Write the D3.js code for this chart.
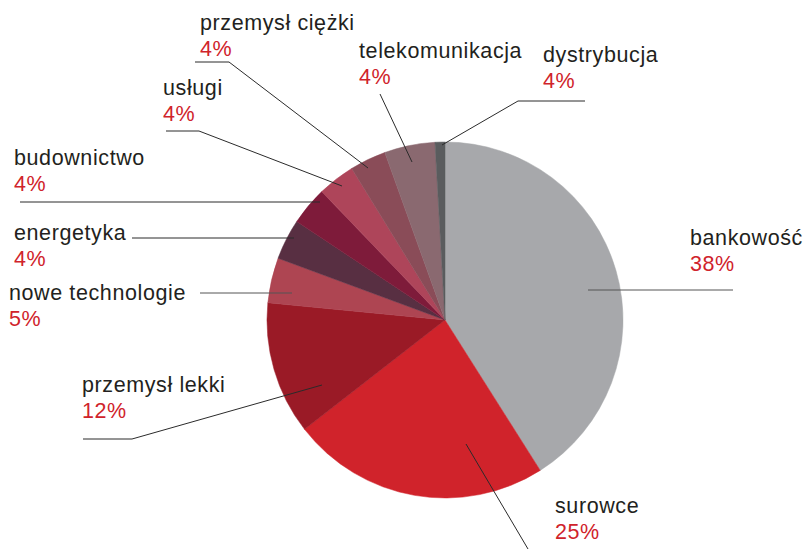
<!DOCTYPE html>
<html>
<head>
<meta charset="utf-8">
<script src="https://cdn.jsdelivr.net/npm/d3@7"></script>
<style>
  body { margin: 0; background: #fff; }
  text { font-family: "Liberation Sans", Arial, sans-serif; }
</style>
</head>
<body>
<div id="chart"></div>
<script>
// sectors, clockwise from 12 o'clock
const sectors = ["bankowość", "surowce", "przemysł lekki", "nowe technologie", "energetyka",
                 "budownictwo", "usługi", "przemysł ciężki", "telekomunikacja", "dystrybucja"];
// slice sizes as drawn
const shares = [41.1, 23.5, 12.1, 4.1, 3.7, 3.5, 3.4, 3.3, 4.6, 0.9];
// percentages printed in the labels
const shareLabels = ["38%", "25%", "12%", "5%", "4%", "4%", "4%", "4%", "4%", "4%"];
const colors = ["#a7a8ab", "#d0232b", "#9a1a26", "#ae4552", "#582f42",
                "#7e1b3a", "#ae455a", "#8a4c58", "#8a6970", "#5a5c5e"];

function init() {
    let w = 806;
    let h = 549;

    // label placement: text anchor and leader polyline (annotation layout)
    const layout = {
        "bankowość":        { x: 690, y: 245, line: [[588, 290], [733, 290]], stroke: "#555" },
        "surowce":          { x: 555, y: 513, line: [[466, 444], [528, 549]] },
        "przemysł lekki":   { x: 82,  y: 392, line: [[322, 385], [132, 439], [83, 439]] },
        "nowe technologie": { x: 9,   y: 300, line: [[292, 293], [200, 293]], stroke: "#555" },
        "energetyka":       { x: 14,  y: 240, line: [[294, 238], [132, 238]] },
        "budownictwo":      { x: 14,  y: 165, line: [[320, 202], [20, 202]] },
        "usługi":           { x: 163, y: 95,  line: [[342, 186], [199, 131], [166, 131]] },
        "przemysł ciężki":  { x: 200, y: 30,  line: [[368, 168], [229, 62], [195, 62]] },
        "telekomunikacja":  { x: 359, y: 58,  line: [[412, 162], [380, 94]] },
        "dystrybucja":      { x: 543, y: 62,  line: [[442, 145], [518, 101], [585, 101]] }
    };

    let svg = d3.select("#chart")
        .append("svg")
        .attr("width", w)
        .attr("height", h);

    let pie = d3.pie()
        .sort(null)
        .value(function (d) { return d.value; });

    let arc = d3.arc()
        .innerRadius(0)
        .outerRadius(178);

    let data = sectors.map(function (s, i) {
        return { name: s, value: shares[i], label: shareLabels[i], color: colors[i] };
    });

    let g = svg.append("g")
        .attr("transform", "translate(445,320)");

    g.selectAll("path")
        .data(pie(data))
        .enter()
        .append("path")
        .attr("d", arc)
        .attr("fill", function (d) { return d.data.color; })
        .attr("stroke", function (d) { return d.data.color; })
        .attr("stroke-width", 0.5);

    let line = d3.line();

    // leader lines
    svg.selectAll(".leader")
        .data(data)
        .enter()
        .append("path")
        .attr("class", "leader")
        .attr("d", function (d) { return line(layout[d.name].line); })
        .attr("fill", "none")
        .attr("stroke", function (d) { return layout[d.name].stroke || "#2b2b2b"; })
        .attr("stroke-width", 1);

    // labels
    let labels = svg.selectAll(".label")
        .data(data)
        .enter()
        .append("text")
        .attr("class", "label")
        .attr("x", function (d) { return layout[d.name].x; })
        .attr("y", function (d) { return layout[d.name].y; })
        .style("font-size", "21.5px")
        .style("letter-spacing", "0.6px");

    labels.append("tspan")
        .attr("fill", "#231f20")
        .text(function (d) { return d.name; });

    labels.append("tspan")
        .attr("x", function (d) { return layout[d.name].x; })
        .attr("dy", 26)
        .attr("fill", "#d0232b")
        .text(function (d) { return d.label; });
}

window.onload = init;
</script>
</body>
</html>
